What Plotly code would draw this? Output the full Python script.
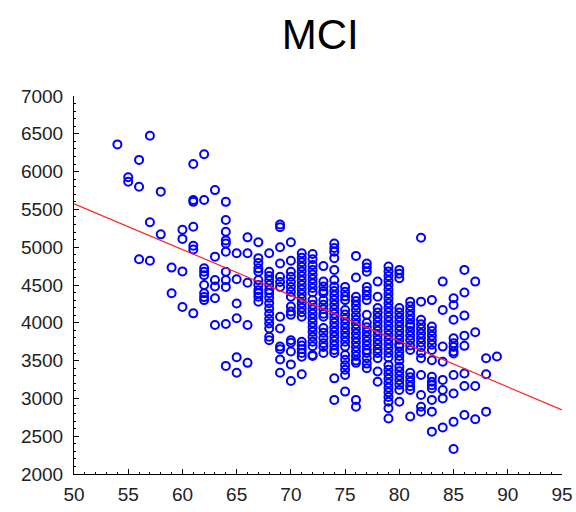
import plotly.graph_objects as go

# ---- data ----
ages = [54, 55, 56, 57, 58, 59, 60, 61, 62, 63, 64, 65, 66, 67, 68, 69, 70, 71,
        72, 73, 74, 75, 76, 77, 78, 79, 80, 81, 82, 83, 84, 85, 86, 87, 88, 89]

values_by_age = [
    [6360],
    [5925, 5865],
    [6155, 5800, 4840],
    [6475, 5330, 4820],
    [5735, 5170],
    [4730, 4390],
    [5230, 5110, 4680, 4210],
    [6100, 5625, 5600, 5270, 5020, 4970, 4125],
    [6230, 5625, 4720, 4675, 4630, 4500, 4390, 4340, 4300],
    [5755, 4875, 4565, 4480, 4325, 3970],
    [5600, 5360, 5205, 5090, 5050, 4940, 4675, 4565, 4475, 3985, 3430],
    [4920, 4575, 4255, 4060, 3545, 3340],
    [5130, 4920, 4530, 3970, 3470],
    [5065, 4855, 4790, 4720, 4675, 4565, 4500, 4430, 4390, 4345, 4280],
    [4920, 4675, 4620, 4560, 4500, 4435, 4390, 4330, 4260, 4190, 4120, 4050,
     3990, 3925, 3815, 3770],
    [5300, 5265, 5000, 4785, 4610, 4540, 4475, 4080, 3925, 3685, 3650, 3515, 3340],
    [5065, 4820, 4675, 4610, 4540, 4475, 4410, 4345, 4215, 4150, 4105, 3770,
     3735, 3620, 3450, 3230],
    [4920, 4860, 4800, 4740, 4680, 4620, 4560, 4500, 4440, 4380, 4320, 4260,
     4200, 4140, 4080, 3750, 3700, 3650, 3600, 3550, 3320],
    [4910, 4840, 4765, 4700, 4640, 4580, 4520, 4460, 4400, 4300, 4240, 4180,
     4120, 4060, 4000, 3940, 3880, 3815, 3750, 3690, 3575, 3560],
    [4750, 4545, 4480, 4420, 4390, 4300, 4240, 4180, 4120, 4080, 3930, 3870,
     3800, 3730, 3680, 3600],
    [5050, 4990, 4940, 4855, 4700, 4565, 4480, 4420, 4360, 4300, 4240, 4180,
     4120, 4060, 4000, 3940, 3880, 3820, 3760, 3700, 3640, 3600, 3265, 2980],
    [4475, 4410, 4350, 4300, 4170, 4110, 4050, 3990, 3930, 3870, 3810, 3750,
     3685, 3575, 3510, 3440, 3380, 3310, 3090],
    [4885, 4600, 4345, 4290, 4230, 4170, 4100, 4040, 3980, 3920, 3860, 3800,
     3740, 3680, 3620, 3560, 3500, 3470, 2980, 2890],
    [4785, 4730, 4675, 4475, 4420, 4360, 4300, 4105, 4000, 3940, 3880, 3820,
     3760, 3700, 3640, 3600, 3530, 3460, 3400],
    [4545, 4345, 4195, 4135, 4075, 4015, 3955, 3895, 3835, 3775, 3715, 3655,
     3600, 3530, 3355, 3220],
    [4745, 4680, 4620, 4560, 4500, 4440, 4380, 4320, 4260, 4200, 4140, 4080,
     4020, 3960, 3900, 3840, 3780, 3720, 3660, 3600, 3540, 3440, 3380, 3320,
     3260, 3200, 3140, 3080, 3020, 2955, 2870, 2735],
    [4700, 4650, 4590, 4195, 4135, 4075, 4015, 3955, 3895, 3835, 3775, 3715,
     3685, 3620, 3560, 3500, 3420, 3360, 3300, 3240, 3180, 3110, 2955],
    [4280, 4220, 4160, 4100, 4040, 3980, 3950, 3890, 3830, 3770, 3700, 3640,
     3340, 3280, 3220, 3160, 3110, 2760],
    [5125, 4280, 4040, 3980, 3920, 3860, 3800, 3740, 3680, 3600, 3530, 3310,
     3045, 2890, 2825],
    [4300, 3950, 3890, 3830, 3770, 3710, 3640, 3505, 3285, 3220, 3175, 3130,
     2980, 2825, 2560],
    [4545, 4170, 3685, 3485, 3245, 3110, 3000, 2615],
    [4325, 4235, 4040, 3795, 3730, 3680, 3620, 3595, 3310, 3065, 2690, 2330],
    [4700, 4400, 4095, 3830, 3695, 3330, 3165, 2780],
    [4545, 3875, 3165, 2725],
    [3530, 3320, 2825],
    [3555],
]

fit_x = [50, 95]
fit_y = [5575, 2848]

x_ticks = [50, 55, 60, 65, 70, 75, 80, 85, 90, 95]
y_ticks = [2000, 2500, 3000, 3500, 4000, 4500, 5000, 5500, 6000, 6500, 7000]

# flatten
pts_x, pts_y = [], []
for a, vals in zip(ages, values_by_age):
    for v in vals:
        pts_x.append(a)
        pts_y.append(v)

fig = go.Figure()
fig.add_trace(go.Scatter(
    x=pts_x, y=pts_y, mode="markers",
    marker=dict(symbol="circle-open", size=8, color="#0000FF",
                line=dict(width=2, color="#0000FF")),
    showlegend=False, cliponaxis=False, hoverinfo="skip"))
fig.add_trace(go.Scatter(
    x=fit_x, y=fit_y, mode="lines",
    line=dict(color="#FF2020", width=1.2), showlegend=False, hoverinfo="skip"))

font_family = "Arial, Liberation Sans, sans-serif"
axis_common = dict(
    showgrid=False, zeroline=False, showline=True, linecolor="black",
    linewidth=1, ticks="inside", ticklen=5, tickcolor="black", tickwidth=1,
    tickfont=dict(family=font_family, size=19, color="#222222"),
    automargin=False,
)

fig.update_layout(
    width=576, height=512,
    margin=dict(l=74, r=14, t=96, b=38, autoexpand=False),
    paper_bgcolor="white", plot_bgcolor="white",
    title=dict(text="MCI", x=0.556, xref="container", xanchor="center",
               y=1 - 34 / 512, yref="container", yanchor="middle",
               font=dict(family=font_family, size=42, color="black")),
    xaxis=dict(range=[50, 95], tickvals=x_ticks, ticklabelstandoff=3,
               minor=dict(ticks="inside", ticklen=2, dtick=1, tick0=50,
                          tickcolor="black", showgrid=False),
               **axis_common),
    yaxis=dict(range=[2000, 7000], tickvals=y_ticks, ticklabelstandoff=6,
               minor=dict(ticks="inside", ticklen=2, dtick=100, tick0=2000,
                          tickcolor="black", showgrid=False),
               **axis_common),
)

fig.write_html("out.html",
               config={"displayModeBar": False},
               post_script="document.body.style.margin='0';"
                           "document.body.style.overflow='hidden';")
